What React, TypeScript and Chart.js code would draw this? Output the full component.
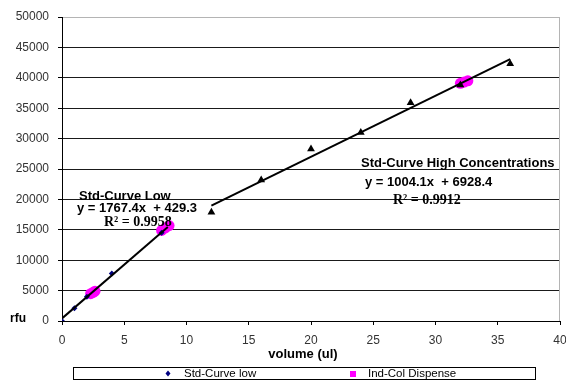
import React, { useEffect, useRef } from 'react';
import { Chart, registerables } from 'chart.js';

Chart.register(...registerables);

// ---- data ----
const lowX = [0, 1, 2, 4, 8];
const lowY = [0, 2100, 4000, 7800, 14500];
const highX = [12, 16, 20, 24, 28, 32, 36];
const highY = [17900, 23200, 28300, 31000, 35900, 38800, 42300];
const dispX = [2.3, 2.5, 2.65, 8.0, 8.3, 8.6, 32.0, 32.3, 32.6];
const dispY = [4500, 4700, 4900, 14900, 15300, 15700, 39100, 39300, 39500];
const lowFitX = [0, 8.5];
const lowFitY = [429.3, 15452];
const highFitX = [12, 36];
const highFitY = [18977, 43076];
const xTickStep = 5;
const xRange = [0, 40];
const yTickStep = 5000;
const yRange = [0, 50000];
const legendLabels = ['Std-Curve low', 'Ind-Col Dispense'];
const lowNotes = ['Std-Curve Low', 'y = 1767.4x  + 429.3', 'R\u00B2 = 0.9958'];
const highNotes = ['Std-Curve High Concentrations', 'y = 1004.1x  + 6928.4', 'R\u00B2 = 0.9912'];
const xTitle = 'volume (ul)';
const yTitle = 'rfu';

const SANS = '"Liberation Sans", Arial, sans-serif';
const SERIF = '"Liberation Serif", "Times New Roman", serif';

const pts = (xs: number[], ys: number[]) => xs.map((x, i) => ({ x, y: ys[i] }));

const decorPlugin = {
  id: 'decor',
  beforeDatasetsDraw(chart: any) {
    const { ctx, chartArea } = chart;
    ctx.save();
    ctx.strokeStyle = '#b4b4b4';
    ctx.lineWidth = 1;
    ctx.beginPath();
    ctx.moveTo(chartArea.right - 0.5, chartArea.top);
    ctx.lineTo(chartArea.right - 0.5, chartArea.bottom);
    ctx.stroke();
    ctx.restore();
  },
  afterDraw(chart: any) {
    const { ctx } = chart;
    ctx.save();
    ctx.fillStyle = '#000';
    ctx.textBaseline = 'middle';
    // annotations
    ctx.textAlign = 'left';
    ctx.font = `bold 13px ${SANS}`;
    ctx.fillText(lowNotes[0], 79, 196);
    ctx.fillText(lowNotes[1], 77, 208);
    ctx.font = `bold 14px ${SERIF}`;
    ctx.fillText(lowNotes[2], 104, 222);
    ctx.font = `bold 13px ${SANS}`;
    ctx.fillText(highNotes[0], 361, 163);
    ctx.fillText(highNotes[1], 365, 182);
    ctx.font = `bold 14px ${SERIF}`;
    ctx.fillText(highNotes[2], 393, 200);
    // axis titles
    ctx.font = `bold 13px ${SANS}`;
    ctx.textAlign = 'center';
    ctx.fillText(xTitle, 303, 354);
    ctx.textAlign = 'left';
    ctx.font = `bold 12px ${SANS}`;
    ctx.fillText(yTitle, 10, 319);
    // legend box
    ctx.fillStyle = '#fff';
    ctx.fillRect(73, 367, 463, 13);
    ctx.strokeStyle = '#000';
    ctx.lineWidth = 1;
    ctx.strokeRect(73.5, 367.5, 462, 12);
    // legend item 1: navy diamond
    ctx.fillStyle = '#000080';
    ctx.beginPath();
    ctx.moveTo(168, 370.5);
    ctx.lineTo(170.5, 373.5);
    ctx.lineTo(168, 376.5);
    ctx.lineTo(165.5, 373.5);
    ctx.closePath();
    ctx.fill();
    ctx.fillStyle = '#000';
    ctx.font = `11.5px ${SANS}`;
    ctx.fillText(legendLabels[0], 184, 374);
    // legend item 2: magenta square
    ctx.fillStyle = '#ff00ff';
    ctx.fillRect(350, 371, 6, 6);
    ctx.fillStyle = '#000';
    ctx.fillText(legendLabels[1], 368, 374);
    ctx.restore();
  },
};

export default function App() {
  const ref = useRef<HTMLCanvasElement | null>(null);
  useEffect(() => {
    if (!ref.current) return;
    const chart = new Chart(ref.current, {
      type: 'scatter',
      data: {
        datasets: [
          {
            label: 'low fit',
            data: pts(lowFitX, lowFitY),
            showLine: true,
            borderColor: '#000',
            borderWidth: 2,
            pointRadius: 0,
            order: 0,
          },
          {
            label: 'high fit',
            data: pts(highFitX, highFitY),
            showLine: true,
            borderColor: '#000',
            borderWidth: 2,
            pointRadius: 0,
            order: 0,
          },
          {
            label: legendLabels[0],
            data: pts(lowX, lowY),
            pointStyle: 'rectRot',
            pointRadius: 3,
            backgroundColor: '#000080',
            borderColor: '#000080',
            borderWidth: 0,
            order: 1,
          },
          {
            label: 'Std-Curve high',
            data: pts(highX, highY),
            pointStyle: 'triangle',
            pointRadius: 4.5,
            backgroundColor: '#000',
            borderColor: '#000',
            borderWidth: 0,
            order: 1,
          },
          {
            label: legendLabels[1],
            data: pts(dispX, dispY),
            pointStyle: 'circle',
            pointRadius: 5.5,
            backgroundColor: '#ff00ff',
            borderColor: '#ff00ff',
            borderWidth: 0,
            order: 2,
          },
        ],
      },
      options: {
        animation: false,
        responsive: false,
        events: [],
        layout: { padding: { top: 17, right: 6, left: 0, bottom: 0 } },
        plugins: { legend: { display: false }, tooltip: { enabled: false } },
        scales: {
          x: {
            type: 'linear',
            position: 'bottom',
            min: xRange[0],
            max: xRange[1],
            afterFit: (s: any) => {
              s.height = 60;
              s.paddingLeft = 0;
              s.paddingRight = 0;
            },
            ticks: {
              stepSize: xTickStep,
              color: '#333',
              font: { family: SANS, size: 12 },
              padding: 8,
              maxRotation: 0,
              callback: (v: any) => String(v),
            },
            grid: { drawOnChartArea: false, tickLength: 4, color: '#000' },
            border: { color: '#000', width: 1 },
          },
          y: {
            type: 'linear',
            min: yRange[0],
            max: yRange[1],
            afterFit: (s: any) => {
              s.width = 62;
            },
            ticks: {
              stepSize: yTickStep,
              color: '#333',
              font: { family: SANS, size: 12 },
              padding: 9,
              callback: (v: any) => String(v),
            },
            grid: {
              tickLength: 4,
              color: (c: any) => (c.tick && c.tick.value === yRange[1] ? '#b4b4b4' : '#1a1a1a'),
              tickColor: '#000',
            },
            border: { color: '#000', width: 1 },
          },
        },
      },
      plugins: [decorPlugin],
    } as any);
    return () => chart.destroy();
  }, []);
  return (
    <div style={{ position: 'fixed', left: 0, top: 0, width: 566, height: 381, background: '#fff' }}>
      <canvas ref={ref} width={566} height={381} />
    </div>
  );
}
